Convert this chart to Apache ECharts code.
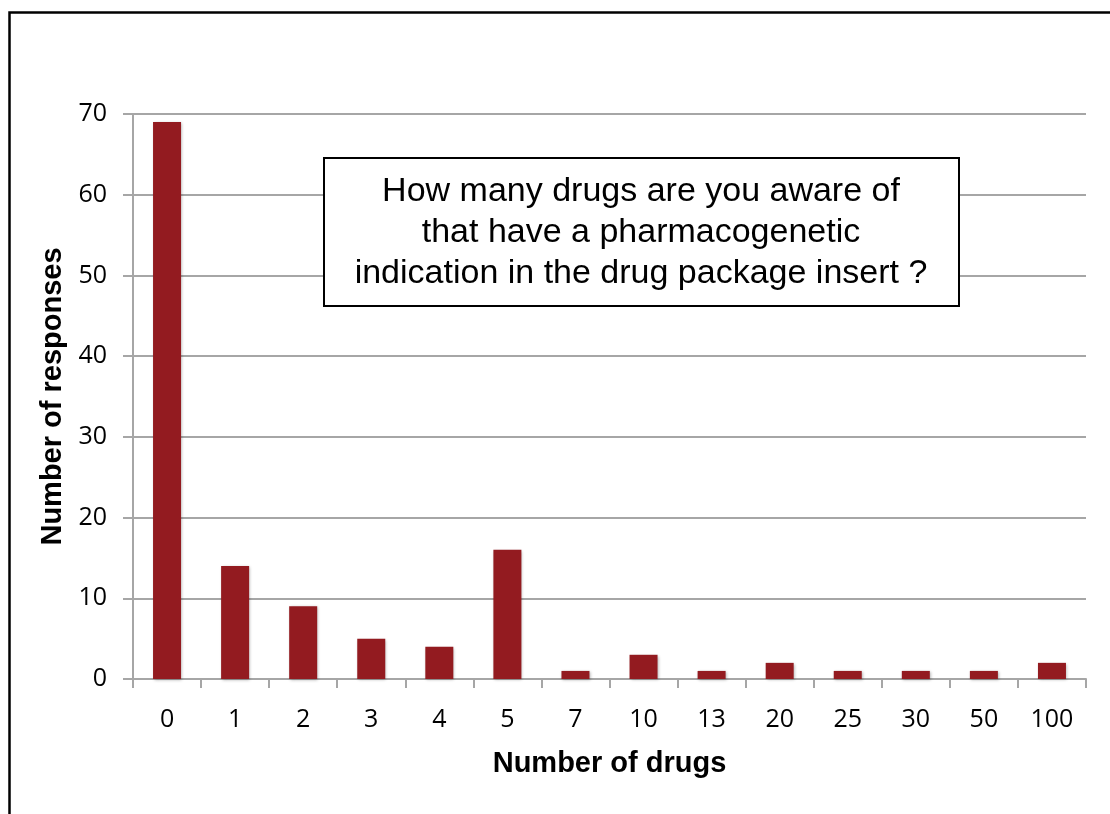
<!DOCTYPE html>
<html><head><meta charset="utf-8">
<script src="https://cdn.jsdelivr.net/npm/echarts@6/dist/echarts.min.js"></script>
<style>html,body{margin:0;padding:0;background:#fff}#c{width:1110px;height:814px}</style>
</head><body><div id="c"></div>
<script>
const categories = ['0','1','2','3','4','5','7','10','13','20','25','30','50','100'];
const responses = [69, 14, 9, 5, 4, 16, 1, 3, 1, 2, 1, 1, 1, 2];
const yTicks = [0, 10, 20, 30, 40, 50, 60, 70];
const xTitle = 'Number of drugs';
const yTitle = 'Number of responses';
const boxText = 'How many drugs are you aware of\nthat have a pharmacogenetic\nindication in the drug package insert ?';

const chart = echarts.init(document.getElementById('c'), null, {renderer: 'canvas'});
const gray = '#A6A6A6';
chart.setOption({
  animation: false,
  backgroundColor: '#fff',
  grid: {left: 133, right: 24, top: 114, bottom: 135, containLabel: false},
  xAxis: {
    type: 'category', data: categories,
    axisLine: {show: true, lineStyle: {color: gray, width: 2}},
    axisTick: {show: true, length: 9, alignWithLabel: false, lineStyle: {color: gray, width: 2}},
    axisLabel: {color: '#000', fontFamily: 'Open Sans', fontSize: 25, margin: 28},
    name: xTitle, nameLocation: 'middle', nameGap: 70,
    nameTextStyle: {fontFamily: 'Liberation Sans', fontWeight: 'bold', fontSize: 29, color: '#000'}
  },
  yAxis: {
    type: 'value', min: yTicks[0], max: yTicks[yTicks.length-1], interval: 10,
    axisLine: {show: true, lineStyle: {color: gray, width: 2}},
    axisTick: {show: true, inside: false, length: 10, lineStyle: {color: gray, width: 2}},
    splitLine: {show: true, lineStyle: {color: gray, width: 2}},
    axisLabel: {color: '#000', fontFamily: 'Open Sans', fontSize: 25, margin: 26},
    name: yTitle, nameLocation: 'middle', nameGap: 66, nameRotate: 90,
    nameTextStyle: {fontFamily: 'Liberation Sans', fontWeight: 'bold', fontSize: 29, color: '#000'}
  },
  series: [{
    type: 'bar', data: responses, barWidth: 28,
    itemStyle: {color: '#931B20', shadowBlur: 3, shadowColor: 'rgba(0,0,0,0.3)', shadowOffsetX: 1, shadowOffsetY: 1}
  }],
  graphic: [
    {type: 'rect', left: 7, top: 10, shape: {width: 1200, height: 1000}, style: {fill: 'none', stroke: '#000', lineWidth: 2.5}, z: 100},
    {type: 'rect', shape: {x: 324, y: 158, width: 635, height: 148}, style: {fill: '#fff', stroke: '#000', lineWidth: 2}, z: 100},
    {type: 'text', x: 641, y: 233, style: {text: boxText, fill: '#000', font: '34px "Liberation Sans"', textAlign: 'center', textVerticalAlign: 'middle', lineHeight: 41}, z: 101}
  ]
});
</script>
</body></html>
